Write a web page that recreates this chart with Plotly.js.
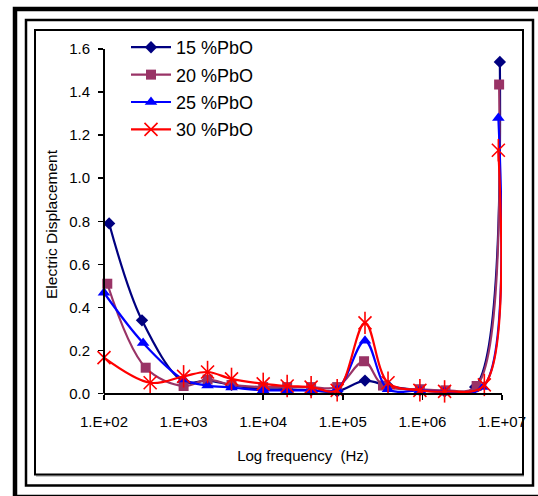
<!DOCTYPE html>
<html>
<head>
<meta charset="utf-8">
<script src="https://cdn.plot.ly/plotly-3.0.1.min.js"></script>
<style>
html,body{margin:0;padding:0;background:#fff;}
#chart{width:538px;height:496px;}
</style>
</head>
<body>
<div id="chart"></div>
<script>
// ---- data (frequency in Hz, electric displacement) ----
var seriesNames = ["15 %PbO", "20 %PbO", "25 %PbO", "30 %PbO"];

var freq15 = [116, 300, 1000, 2000, 4000, 10000, 20000, 40000, 85000, 190000, 370000, 930000, 1900000, 4600000, 9400000];
var disp15 = [0.79, 0.34, 0.055, 0.06, 0.04, 0.02, 0.02, 0.015, 0.01, 0.06, 0.035, 0.015, 0.01, 0.03, 1.54];

var freq20 = [110, 334, 1000, 2000, 4000, 10000, 20000, 40000, 85000, 185000, 320000, 930000, 1950000, 4800000, 9200000];
var disp20 = [0.51, 0.12, 0.035, 0.065, 0.04, 0.03, 0.03, 0.03, 0.03, 0.15, 0.037, 0.02, 0.015, 0.035, 1.435];

var freq25 = [100, 310, 1000, 2000, 4000, 10000, 20000, 40000, 85000, 190000, 370000, 930000, 1900000, 5800000, 9000000];
var disp25 = [0.468, 0.235, 0.065, 0.037, 0.028, 0.015, 0.015, 0.015, 0.02, 0.245, 0.02, 0.015, 0.01, 0.03, 1.28];

var freq30 = [100, 380, 1000, 2000, 4000, 10000, 20000, 40000, 85000, 190000, 370000, 930000, 1900000, 6000000, 9000000];
var disp30 = [0.167, 0.05, 0.08, 0.1, 0.068, 0.045, 0.035, 0.03, 0.015, 0.328, 0.05, 0.015, 0.01, 0.04, 1.13];

var xTickVals = [1e2, 1e3, 1e4, 1e5, 1e6, 1e7];
var xTickText = ["1.E+02", "1.E+03", "1.E+04", "1.E+05", "1.E+06", "1.E+07"];
var yTickVals = [0, 0.2, 0.4, 0.6, 0.8, 1.0, 1.2, 1.4, 1.6];

// ---- styling ----
var FONT = 'Arial, "Liberation Sans", sans-serif';
var C15 = '#000080', C20 = '#993366', C25 = '#0000FF', C30 = '#FF0000';

function lineTrace(x, y, name, color, symbol, size, group) {
  return {
    x: x, y: y, name: name, type: 'scatter', mode: 'lines+markers',
    legendgroup: group,
    line: {color: color, width: 2.2, shape: 'spline', smoothing: 1},
    marker: {symbol: symbol, size: size, color: color, line: {width: 0, color: color}},
    cliponaxis: false
  };
}

var t15 = lineTrace(freq15, disp15, seriesNames[0], C15, 'diamond', 9.5, 'a');
var t20 = lineTrace(freq20, disp20, seriesNames[1], C20, 'square', 10, 'b');
var t25 = lineTrace(freq25, disp25, seriesNames[2], C25, 'triangle-up', 11, 'c');
var t30 = lineTrace(freq30, disp30, seriesNames[3], C30, 'x-thin-open', 13, 'd');
t30.marker.line = {width: 1.6, color: C30};
var t30b = {
  x: freq30, y: disp30, type: 'scatter', mode: 'markers', showlegend: false, legendgroup: 'd',
  marker: {symbol: 'line-ns-open', size: 16, color: C30, line: {width: 1.6, color: C30}},
  cliponaxis: false, hoverinfo: 'skip'
};

// plot area mapping helpers (pixels)
var PL = 104, PR = 502, PT = 49;
var YMIN = -0.03, YMAX = 1.6, PXU = 215.6;
var plotH = (YMAX - YMIN) * PXU;
var PB = PT + plotH;
function px(x) { return (x - PL) / (PR - PL); }
function py(y) { return (PB - y) / (PB - PT); }

var layout = {
  width: 538, height: 496,
  margin: {l: PL, r: 538 - PR, t: PT, b: 496 - PB, pad: 0},
  paper_bgcolor: '#fff', plot_bgcolor: '#fff',
  font: {family: FONT, color: '#000', size: 15},
  showlegend: true,
  legend: {
    x: px(126), y: py(29), xanchor: 'left', yanchor: 'top',
    font: {family: FONT, size: 18, color: '#000'},
    bgcolor: 'rgba(0,0,0,0)', borderwidth: 0,
    tracegroupgap: 1, itemwidth: 40
  },
  xaxis: {
    type: 'log', range: [2, 7],
    anchor: 'free', position: (0 - YMIN) / (YMAX - YMIN),
    tickvals: xTickVals, ticktext: xTickText,
    ticks: 'outside', ticklen: 5, tickwidth: 1.5, tickcolor: '#000',
    showline: true, linecolor: '#000', linewidth: 2,
    showgrid: false, zeroline: false,
    tickfont: {family: FONT, size: 15, color: '#000'},
    ticklabelstandoff: 9,
    title: {text: 'Log frequency\u00a0 (Hz)', font: {family: FONT, size: 15, color: '#000'}, standoff: 21}
  },
  yaxis: {
    range: [YMIN, YMAX],
    tickvals: yTickVals, tickformat: '.1f',
    ticks: 'outside', ticklen: 5, tickwidth: 1.5, tickcolor: '#000',
    showline: false, showgrid: false, zeroline: false,
    tickfont: {family: FONT, size: 15, color: '#000'},
    ticklabelstandoff: 5,
    title: {text: 'Electric Displacement', font: {family: FONT, size: 15.5, color: '#000'}, standoff: 7}
  },
  shapes: [
    // y axis line from 0 to 1.6
    {type: 'line', xref: 'paper', yref: 'y', x0: 0, x1: 0, y0: 0, y1: 1.6, line: {color: '#000', width: 2}},
    // outer frame
    {type: 'rect', xref: 'paper', yref: 'paper', x0: px(15), x1: px(548), y0: py(9), y1: py(497.5), line: {color: '#000', width: 4.5}, layer: 'above'},
    // middle frame
    {type: 'rect', xref: 'paper', yref: 'paper', x0: px(26), x1: px(533), y0: py(20), y1: py(486), line: {color: '#000', width: 2.5}, layer: 'above'},
    // inner frame shadow
    {type: 'line', xref: 'paper', yref: 'paper', x0: px(36), x1: px(524), y0: py(476.5), y1: py(476.5), line: {color: '#888', width: 1}},
    // inner frame
    {type: 'rect', xref: 'paper', yref: 'paper', x0: px(35), x1: px(523), y0: py(30), y1: py(475), line: {color: '#000', width: 2}, layer: 'above'}
  ]
};

Plotly.newPlot('chart', [t15, t20, t25, t30, t30b], layout, {displayModeBar: false, staticPlot: true});
</script>
</body>
</html>
